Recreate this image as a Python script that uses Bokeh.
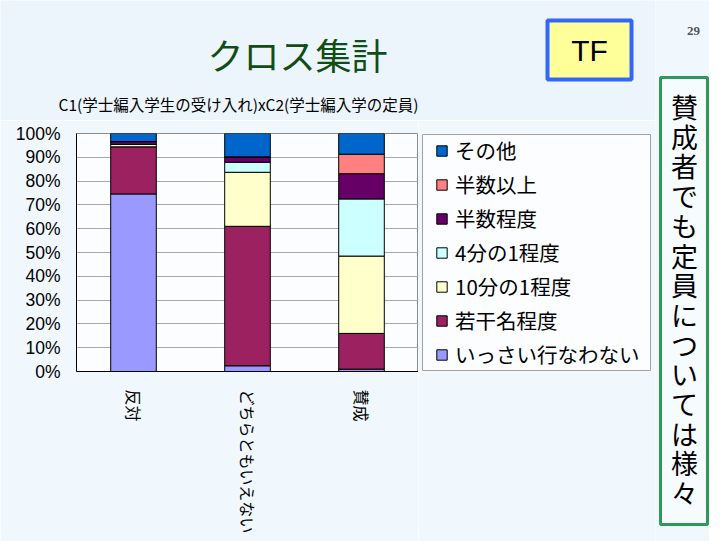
import math
from bokeh.plotting import figure
from bokeh.layouts import row, column
from bokeh.models import (ColumnDataSource, FactorRange, Range1d, FixedTicker,
                          Label, BoxAnnotation, Legend, LegendItem)
from bokeh.embed import file_html
from bokeh.resources import INLINE

# ---- data ----
categories = ["反対", "どちらともいえない", "賛成"]
series = ["いっさい行なわない", "若干名程度", "10分の1程度", "4分の1程度",
          "半数程度", "半数以上", "その他"]
v_none = [74.6, 2.4, 1.0]
v_few = [19.8, 58.6, 15.0]
v_tenth = [1.0, 22.7, 32.5]
v_quarter = [0.0, 4.2, 24.0]
v_half = [1.2, 2.3, 10.6]
v_over_half = [0.0, 0.0, 8.2]
v_other = [3.4, 9.8, 8.7]
colors = ["#9999FF", "#9b2160", "#FFFFCC", "#CCFFFF", "#660066", "#FF8080", "#0066CC"]
y_ticks = [0, 10, 20, 30, 40, 50, 60, 70, 80, 90, 100]
y_tick_labels = ["0%", "10%", "20%", "30%", "40%", "50%", "60%", "70%", "80%", "90%", "100%"]

title_text = "クロス集計"
subtitle_text = "C1(学士編入学生の受け入れ)xC2(学士編入学の定員)"
note_text = "賛成者でも定員については様々"
badge_text = "TF"
page_no = "29"

JP = "Noto Sans CJK JP"
LAT = "Liberation Sans"
BG = "#f1f8fd"

source = ColumnDataSource(data={
    "cat": categories,
    series[0]: v_none, series[1]: v_few, series[2]: v_tenth, series[3]: v_quarter,
    series[4]: v_half, series[5]: v_over_half, series[6]: v_other,
})


def blank(w, h):
    f = figure(width=w, height=h, output_backend="svg", toolbar_location=None,
               x_range=Range1d(0, w), y_range=Range1d(h, 0),
               x_axis_type=None, y_axis_type=None,
               min_border_left=0, min_border_right=0,
               min_border_top=0, min_border_bottom=0)
    f.grid.visible = False
    f.outline_line_color = None
    f.border_fill_color = BG
    f.background_fill_color = BG
    return f


# ---- header (pixel-like coordinates, y from top) ----
hdr = blank(655, 120)
hdr.background_fill_color = "#ecf5fb"
hdr.add_layout(Label(x=297, y=53, text=title_text, text_font=JP, text_font_size="36px",
                     text_color="#124d16", text_align="center", text_baseline="middle"))
hdr.add_layout(Label(x=58, y=103, text=subtitle_text, text_font=JP,
                     text_font_size="15.5px", text_color="black",
                     text_align="left", text_baseline="middle"))
hdr.add_layout(BoxAnnotation(left=547, right=631, top=20, bottom=79,
                             fill_color="#ffff99", fill_alpha=1,
                             line_color="#3366ff", line_width=4, line_alpha=1))
hdr.add_layout(Label(x=589, y=50, text=badge_text, text_font=LAT, text_font_size="30px",
                     text_color="black", text_align="center", text_baseline="middle"))

# ---- right note (vertical writing, one character per line) ----
note = blank(54, 541)
note.add_layout(Label(x=38, y=30, text=page_no, text_font="Liberation Serif",
                      text_font_size="13px", text_font_style="bold", text_color="#555555",
                      text_align="center", text_baseline="middle"))
note.add_layout(BoxAnnotation(left=5, right=52, top=77, bottom=524,
                              fill_color="#f6fbfe", fill_alpha=1,
                              line_color="#2e9a5a", line_width=3, line_alpha=1))
char_top, char_pitch = 106, 29.7
for i, ch in enumerate(note_text):
    note.add_layout(Label(x=29, y=char_top + i * char_pitch, text=ch, text_font=JP,
                          text_font_size="27px", text_color="black",
                          text_align="center", text_baseline="middle"))

# ---- main chart ----
p = figure(x_range=FactorRange(*categories), y_range=Range1d(0, 100),
           width=418, height=421, output_backend="svg", toolbar_location=None,
           min_border_left=76, min_border_right=0, min_border_top=13,
           min_border_bottom=170)
p.border_fill_color = BG
p.background_fill_color = "#fbfdff"
p.outline_line_color = "#8c8c8c"

renderers = p.vbar_stack(series, x="cat", width=0.4, color=colors, source=source,
                         line_color="black", line_width=1)

p.yaxis.ticker = FixedTicker(ticks=y_ticks)
p.yaxis.major_label_overrides = {t: l for t, l in zip(y_ticks, y_tick_labels)}
p.yaxis.major_label_text_font = LAT
p.yaxis.major_label_text_font_size = "17.5px"
p.yaxis.major_label_text_color = "black"
p.yaxis.major_tick_line_color = None
p.yaxis.major_tick_out = 0
p.yaxis.major_tick_in = 0
p.yaxis.minor_tick_line_color = None
p.yaxis.major_label_standoff = 16
p.yaxis.axis_line_color = "black"

p.xaxis.major_label_orientation = -math.pi / 2
p.xaxis.major_label_text_font = JP
p.xaxis.major_label_text_font_size = "16px"
p.xaxis.major_label_text_color = "black"
p.xaxis.major_tick_line_color = None
p.xaxis.major_tick_out = 0
p.xaxis.major_tick_in = 0
p.xaxis.major_label_standoff = 18
p.xaxis.axis_line_color = "black"

p.xgrid.grid_line_color = None
p.ygrid.grid_line_color = "#a8a8a8"
p.ygrid.grid_line_width = 1

# ---- legend panel: same stacked series; its x range holds no category, so no bars show.
# Its frame uses the same top/bottom borders as the chart (the row aligns frames).
lf = figure(x_range=FactorRange(factors=["legend"]), y_range=Range1d(0, 100),
            width=237, height=421, output_backend="svg", toolbar_location=None,
            x_axis_type=None, y_axis_type=None,
            min_border_left=0, min_border_right=0, min_border_top=13,
            min_border_bottom=170)
lf.grid.visible = False
lf.outline_line_color = None
lf.border_fill_color = BG
lf.background_fill_color = BG
lrs = lf.vbar_stack(series, x="cat", width=0.4, color=colors, source=source,
                    line_color="black", line_width=1)
lf.add_layout(BoxAnnotation(left=4, right=232, top=237, bottom=1,
                            left_units="screen", right_units="screen",
                            top_units="screen", bottom_units="screen",
                            fill_color="#fbfdff", fill_alpha=1,
                            line_color="#a0a0a0", line_width=1, line_alpha=1))
items = [LegendItem(label=s, renderers=[r]) for s, r in zip(series, lrs)]
items.reverse()
legend = Legend(items=items, location=(17, 2), margin=0)
legend.label_text_font = JP
legend.label_text_font_size = "20.5px"
legend.label_text_color = "black"
legend.glyph_width = 13
legend.glyph_height = 13
legend.label_standoff = 7
legend.spacing = 4
legend.padding = 3
legend.label_height = 20
legend.border_line_color = None
legend.background_fill_alpha = 0
lf.add_layout(legend, "center")

layout = row(column(hdr, row(p, lf, spacing=0), spacing=0), note, spacing=0)
open("out.html", "w").write(file_html(layout, INLINE))
